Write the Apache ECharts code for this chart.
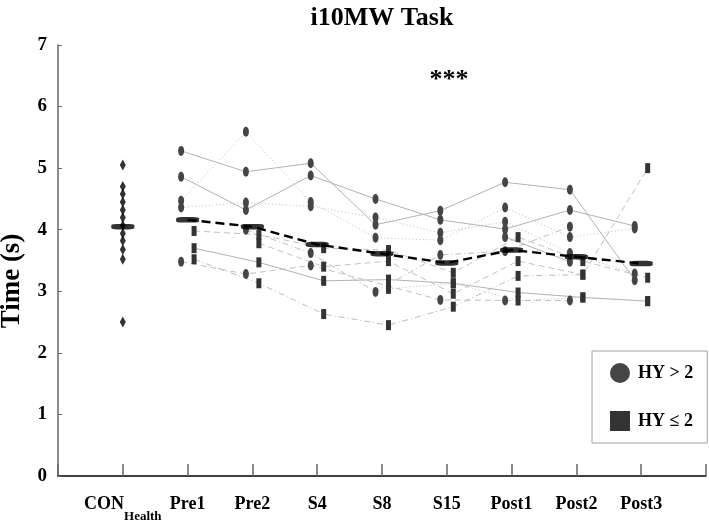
<!DOCTYPE html>
<html>
<head>
<meta charset="utf-8">
<script src="https://cdn.jsdelivr.net/npm/echarts@6/dist/echarts.min.js"></script>
<style>
html,body{margin:0;padding:0;background:#fff;}
#chart{width:709px;height:523px;}
</style>
</head>
<body>
<div id="chart"></div>
<script>
// ---------- DATA ----------
const categories = ['CON', 'Pre1', 'Pre2', 'S4', 'S8', 'S15', 'Post1', 'Post2', 'Post3'];
const yTicks = [0, 1, 2, 3, 4, 5, 6, 7];

// healthy controls
const conValues = [5.05, 4.70, 4.58, 4.45, 4.32, 4.20, 4.07, 3.94, 3.82, 3.68, 3.52, 2.50];
const conMean = 4.05;

// HY > 2 subjects (Pre1 .. Post3)
const hyHigh1 = [5.28, 4.94, 5.08, 4.08, 4.31, 4.77, 4.65, 3.18];
const hyHigh2 = [4.86, 4.32, 4.88, 4.50, 4.16, 4.01, 4.32, 4.06];
const hyHigh3 = [4.47, 5.59, 4.45, 3.87, 3.83, 4.36, 3.88, 4.02];
const hyHigh4 = [4.36, 4.44, 4.38, 4.20, 3.95, 4.13, 3.62, 3.29];
const hyHigh5 = [null, 4.00, 3.62, 2.99, 3.59, 3.65, 4.05, null];
const hyHigh6 = [3.48, 3.28, 3.42, null, 2.86, 2.85, 2.85, null];
const hyHigh7 = [null, null, null, null, null, 3.88, 3.48, null];

// HY <= 2 subjects (Pre1 .. Post3)
const hyLow1 = [3.98, 3.92, 3.70, 3.67, 3.30, 3.88, 3.49, 3.22];
const hyLow2 = [3.70, 3.47, 3.17, 3.19, 3.13, 2.98, 2.90, 2.84];
const hyLow3 = [3.52, 3.13, 2.63, 2.45, 2.75, 3.25, 3.27, null];
const hyLow4 = [null, 3.78, 3.40, 3.49, 2.96, 3.49, 3.27, 5.00];
const hyLow5 = [null, null, null, 3.04, 3.13, 2.85, 2.90, 2.84];

// group mean per session (Pre1 .. Post3)
const sessionMeans = [4.16, 4.05, 3.76, 3.61, 3.46, 3.67, 3.56, 3.45];

// ---------- STYLE ----------
const FONT = 'Liberation Serif';
const DOTTED = [1, 2.5];
const DASHED = [6, 4];
const DASHDOT = [6, 3, 1, 3];
const highSubjects = [
  {v: hyHigh1, t: 'solid', c: '#b3b3b3'},
  {v: hyHigh2, t: 'solid', c: '#b3b3b3'},
  {v: hyHigh3, t: DOTTED, c: '#bdbdbd'},
  {v: hyHigh4, t: DOTTED, c: '#bdbdbd'},
  {v: hyHigh5, t: DASHDOT, c: '#bdbdbd'},
  {v: hyHigh6, t: DASHED, c: '#c2c2c2'},
  {v: hyHigh7, t: 'solid', c: '#b3b3b3'}
];
const lowSubjects = [
  {v: hyLow1, t: DASHED, c: '#c2c2c2'},
  {v: hyLow2, t: 'solid', c: '#b3b3b3'},
  {v: hyLow3, t: DASHDOT, c: '#bdbdbd'},
  {v: hyLow4, t: DASHED, c: '#c2c2c2'},
  {v: hyLow5, t: DOTTED, c: '#bdbdbd'}
];
const CIRCLE_DX = -0.1, SQUARE_DX = 0.1;

function toPoints(vals, dx) {
  const pts = [];
  vals.forEach((v, i) => { if (v !== null) pts.push([i + 2 + dx, v]); });
  return pts;
}

const series = [];
highSubjects.forEach(s => series.push({
  type: 'line', data: toPoints(s.v, CIRCLE_DX), showSymbol: false, silent: true,
  lineStyle: {color: s.c, width: 1, type: s.t}, z: 1
}));
lowSubjects.forEach(s => series.push({
  type: 'line', data: toPoints(s.v, SQUARE_DX), showSymbol: false, silent: true,
  lineStyle: {color: s.c, width: 1, type: s.t}, z: 1
}));

let circlePts = [], squarePts = [];
highSubjects.forEach(s => circlePts = circlePts.concat(toPoints(s.v, CIRCLE_DX)));
lowSubjects.forEach(s => squarePts = squarePts.concat(toPoints(s.v, SQUARE_DX)));

series.push({
  name: 'HY > 2', type: 'scatter', data: circlePts, symbol: 'circle', symbolSize: [6, 10],
  itemStyle: {color: '#454545', opacity: 1}, z: 3
});
series.push({
  name: 'HY ≤ 2', type: 'scatter', data: squarePts, symbol: 'rect', symbolSize: [5, 10],
  itemStyle: {color: '#333333', opacity: 1}, z: 3
});
// controls
series.push({
  type: 'scatter', data: conValues.map(v => [1, v]), symbol: 'diamond', symbolSize: [6, 11],
  itemStyle: {color: '#000'}, z: 3
});
// mean line
series.push({
  type: 'line', data: sessionMeans.map((v, i) => [i + 2, v]), showSymbol: false, silent: true,
  lineStyle: {color: '#000', width: 2.4, type: [9, 5]}, z: 4
});
// mean bars
series.push({
  type: 'scatter', data: [[1, conMean]].concat(sessionMeans.map((v, i) => [i + 2, v])),
  symbol: 'roundRect', symbolSize: [23, 5.5], itemStyle: {color: '#000'}, z: 5
});

const chart = echarts.init(document.getElementById('chart'), null, {renderer: 'canvas'});
chart.setOption({
  animation: false,
  backgroundColor: '#fff',
  textStyle: {fontFamily: FONT},
  title: {
    text: 'i10MW Task', left: 377, top: 0, textAlign: 'center',
    textStyle: {fontFamily: FONT, fontWeight: 'bold', fontSize: 26, color: '#000'}
  },
  grid: {left: 58, right: 2, top: 45, bottom: 46.5, containLabel: false},
  legend: {
    data: [{name: 'HY > 2', icon: 'circle'}, {name: 'HY ≤ 2', icon: 'rect'}],
    orient: 'vertical', left: 592, top: 351,
    itemWidth: 20, itemHeight: 20, itemGap: 28,
    padding: [12, 14, 12, 18],
    borderColor: '#a0a0a0', borderWidth: 1,
    selectedMode: false,
    textStyle: {fontFamily: FONT, fontWeight: 'bold', fontSize: 18, color: '#000', padding: [0, 0, 0, 3]}
  },
  xAxis: {
    type: 'value', min: 0, max: 10, interval: 1,
    splitLine: {show: false},
    axisLine: {show: true, onZero: false, lineStyle: {color: '#000', width: 1.5}},
    axisTick: {show: true, inside: true, length: 12, lineStyle: {color: '#666', width: 1.5}},
    axisLabel: {
      margin: 19, color: '#000',
      formatter: function (v) {
        if (v < 1 || v > 9) return '';
        if (v === 1) return '{n|CON}{s|Health}';
        return '{n|' + categories[v - 1] + '}';
      },
      rich: {
        n: {fontFamily: FONT, fontWeight: 'bold', fontSize: 18, color: '#000', verticalAlign: 'top', lineHeight: 18},
        s: {fontFamily: FONT, fontWeight: 'bold', fontSize: 13, color: '#000', verticalAlign: 'top', lineHeight: 13, padding: [15, 0, 0, 0]}
      }
    }
  },
  yAxis: {
    type: 'value', min: yTicks[0], max: yTicks[yTicks.length - 1], interval: 1,
    splitLine: {show: false},
    axisLine: {show: true, lineStyle: {color: '#666', width: 1.5}},
    axisTick: {show: true, inside: true, length: 4, lineStyle: {color: '#666', width: 1}},
    axisLabel: {
      margin: 11, color: '#000',
      formatter: function (v) { return '{b|' + v + '}'; },
      rich: {b: {fontFamily: FONT, fontWeight: 'bold', fontSize: 19, color: '#000'}}
    }
  },
  graphic: [
    {
      type: 'text', x: 12, y: 281, rotation: Math.PI / 2,
      style: {text: 'Time (s)', fontFamily: FONT, fontWeight: 'bold', fontSize: 27, fill: '#000',
        textAlign: 'center', textVerticalAlign: 'middle'}
    },
    {
      type: 'text', x: 449, y: 80,
      style: {text: '***', fontFamily: FONT, fontWeight: 'bold', fontSize: 26, fill: '#000',
        textAlign: 'center', textVerticalAlign: 'middle'}
    }
  ],
  series: series
});
</script>
</body>
</html>
